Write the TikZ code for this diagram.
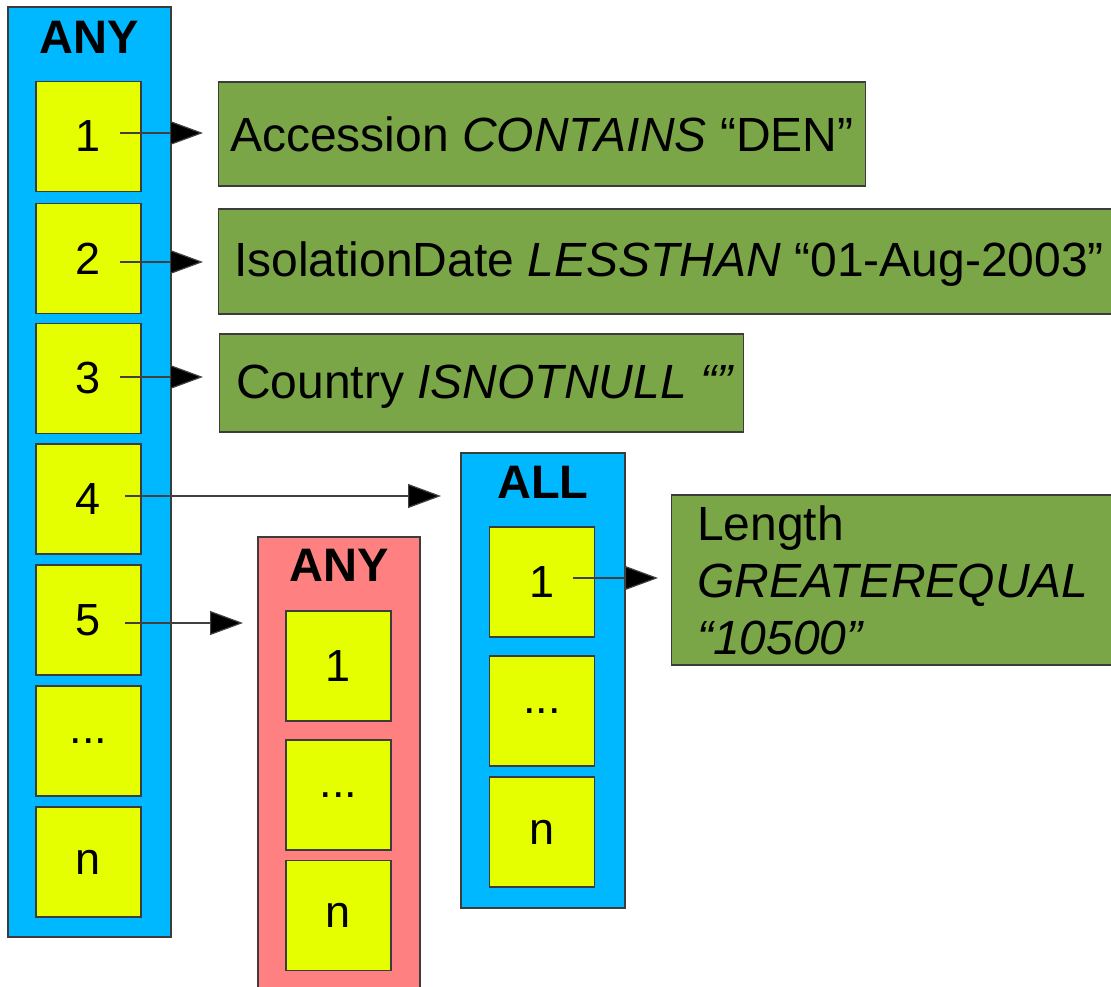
\documentclass[tikz,border=0pt]{standalone}
\usepackage{fontspec}
\setmainfont{Liberation Sans}
\usetikzlibrary{arrows.meta}
\definecolor{cblue}{HTML}{00B8FF}
\definecolor{cyel}{HTML}{E6FF00}
\definecolor{cgreen}{HTML}{7BA647}
\definecolor{cred}{HTML}{FF8080}
\definecolor{cedge}{HTML}{3C3C3C}
\tikzset{
  ybox/.style={draw=cedge, line width=1.2pt, fill=cyel, minimum width=105pt, minimum height=110pt, inner sep=0pt, font=\fontsize{45}{45}\selectfont},
  container/.style={draw=cedge, line width=1.2pt, inner sep=0pt},
  title/.style={font=\fontsize{47}{47}\selectfont\bfseries, inner sep=0pt},
  cond/.style={draw=cedge, line width=1.2pt, fill=cgreen, anchor=west, inner sep=0pt},
  condtext/.style={anchor=west, align=left, inner sep=0pt, font=\fontsize{48}{57}\selectfont},
  link/.style={line width=1.2pt, draw=black!75, -{Triangle[length=33pt,width=24pt,fill=black]}}
}
\begin{document}
\begin{tikzpicture}[x=1pt,y=-1pt]
\useasboundingbox (0,0) rectangle (1111,987);
% containers
\node[container, fill=cblue, minimum width=163pt, minimum height=930pt] (anyL) at (89.5,472) {};
\node[container, fill=cred, minimum width=162pt, minimum height=480pt] (anyR) at (339,777) {};
\node[container, fill=cblue, minimum width=164pt, minimum height=455pt] (all) at (543,680.5) {};
\node[title] (tL) at (89,37) {ANY};
\node[title] (tR) at (339,565) {ANY};
\node[title] (tA) at (543,482) {ALL};
% left column
\node[ybox] (l1) at (88.5,136.5) {1};
\node[ybox] (l2) at (88.5,258.5) {2};
\node[ybox] (l3) at (88.5,378.5) {3};
\node[ybox] (l4) at (88.5,499) {4};
\node[ybox] (l5) at (88.5,620) {5};
\node[ybox] (l6) at (88.5,741) {...};
\node[ybox] (l7) at (88.5,862) {n};
% red column
\node[ybox] (r1) at (338.5,666) {1};
\node[ybox] (r2) at (338.5,795) {...};
\node[ybox] (r3) at (338.5,915.5) {n};
% all column
\node[ybox] (a1) at (542,582) {1};
\node[ybox] (a2) at (542,711) {...};
\node[ybox] (a3) at (542,832) {n};
% conditions
\node[cond, minimum width=647pt, minimum height=104pt] (c1) at (218,134) {};
\node[cond, minimum width=893pt, minimum height=105pt] (c2) at (218,261.5) {};
\node[cond, minimum width=524pt, minimum height=98pt] (c3) at (219,383) {};
\node[cond, minimum width=442pt, minimum height=170pt] (c4) at (671,580) {};
\node[condtext] (ct1) at ([xshift=12pt]c1.west) {Accession \textit{CONTAINS} “DEN”};
\node[condtext] (ct2) at ([xshift=16pt,yshift=-3pt]c2.west) {IsolationDate \textit{LESSTHAN} “01-Aug-2003”};
\node[condtext] (ct3) at ([xshift=17pt,yshift=-4pt]c3.west) {Country \textit{ISNOTNULL “”}};
\node[condtext] (ct4) at ([xshift=26pt]c4.west) {Length\\\textit{GREATEREQUAL}\\\textit{“10500”}};
% connector start points
\coordinate (s1) at (120,133);
\coordinate (s2) at (120,262);
\coordinate (s3) at (120,377);
\coordinate (s4) at (125,496);
\coordinate (s5) at (125,623);
\coordinate (s6) at (573,578);
\coordinate (e1) at (203,133);
\coordinate (e2) at (203,262);
\coordinate (e3) at (203,377);
\coordinate (e4) at (441,496);
\coordinate (e5) at (243,623);
\coordinate (e6) at (658,578);
\draw[link] (s1) -- (e1);
\draw[link] (s2) -- (e2);
\draw[link] (s3) -- (e3);
\draw[link] (s4) -- (e4);
\draw[link] (s5) -- (e5);
\draw[link] (s6) -- (e6);
\end{tikzpicture}
\end{document}
